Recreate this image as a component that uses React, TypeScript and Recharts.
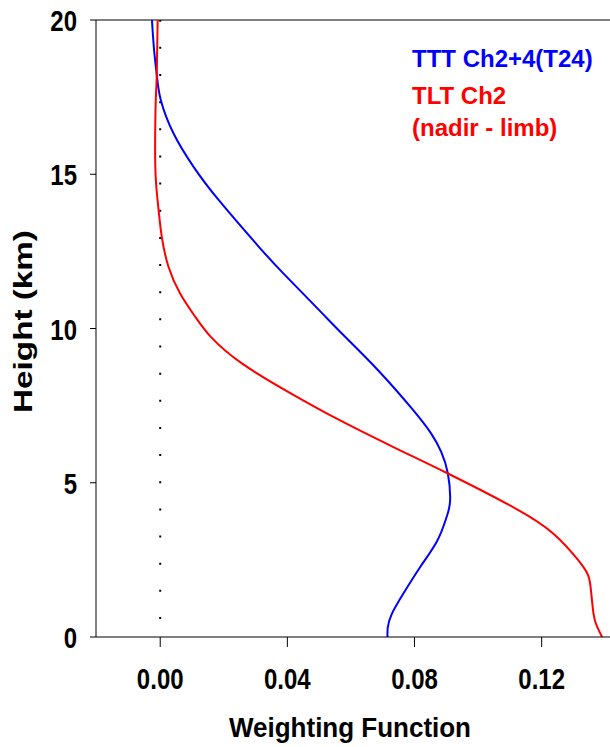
import React from 'react';
import { LineChart, Line, XAxis, YAxis, ReferenceLine } from 'recharts';

// heights (km) and weighting function values
const tttHeights = [20, 19, 18.15, 17.4, 16.32, 15.24, 14.15, 12.64, 11.78, 10.53, 9.78, 8.64, 7.4, 6.6, 6.0, 5.3, 4.43, 3.89, 3.13, 2.27, 1.41, 0.76, 0.32, 0];
const tttValues = [-0.0026, -0.0019, -0.001, 0.0002, 0.0042, 0.0105, 0.0185, 0.0311, 0.0388, 0.0506, 0.0577, 0.0686, 0.0792, 0.0852, 0.0884, 0.0905, 0.0912, 0.0901, 0.0872, 0.0818, 0.0765, 0.0729, 0.0716, 0.0715];

const tltHeights = [20, 18.15, 17.4, 15.8, 14.7, 13.83, 12.97, 12.0, 11.13, 10.37, 9.72, 8.86, 7.89, 7.02, 6.1, 5.3, 4.21, 3.35, 2.49, 2.05, 1.62, 0.76, 0.32, 0];
const tltValues = [-0.0008, -0.0011, -0.0014, -0.0016, -0.0013, -0.0005, 0.0005, 0.0026, 0.0063, 0.0111, 0.016, 0.0258, 0.0412, 0.0566, 0.0745, 0.0905, 0.111, 0.1237, 0.1315, 0.1344, 0.1354, 0.1363, 0.1375, 0.139];

const xTicks = [0, 0.04, 0.08, 0.12];
const yTicks = [0, 5, 10, 15, 20];

const FONT = '"Liberation Sans", Arial, sans-serif';

const ttt = tttHeights.map((h, i) => ({ h, w: tttValues[i] }));
const tlt = tltHeights.map((h, i) => ({ h, w: tltValues[i] }));

const XTick = (props: any) => {
  const { x, payload } = props;
  return (
    <g transform={`translate(${x},689.3) scale(1,1.2)`}>
      <text x={0} y={0} textAnchor="middle" fontFamily={FONT} fontWeight="bold" fontSize={24} fill="#000">
        {Number(payload.value).toFixed(2)}
      </text>
    </g>
  );
};

const YTick = (props: any) => {
  const { y, payload } = props;
  return (
    <g transform={`translate(77,${y + 11}) scale(1,1.2)`}>
      <text x={0} y={0} textAnchor="end" fontFamily={FONT} fontWeight="bold" fontSize={24} fill="#000">
        {payload.value}
      </text>
    </g>
  );
};

export default function App() {
  return (
    <div style={{ position: 'absolute', left: 0, top: 0, width: 610, height: 747, background: '#fff' }}>
      <LineChart width={610} height={747} layout="vertical" margin={{ top: 20, right: 0, bottom: 0, left: 0 }}>
        <XAxis
          type="number"
          dataKey="w"
          domain={[-0.0202, 0.1415]}
          ticks={xTicks}
          allowDataOverflow
          height={110}
          tickSize={10}
          tick={<XTick />}
          axisLine={{ stroke: '#000' }}
          tickLine={{ stroke: '#000' }}
        />
        <YAxis
          type="number"
          dataKey="h"
          domain={[0, 20]}
          ticks={yTicks}
          reversed
          width={96}
          tickSize={6}
          tick={<YTick />}
          axisLine={{ stroke: '#000' }}
          tickLine={{ stroke: '#000' }}
        />
        <ReferenceLine y={20} stroke="#000" strokeWidth={1} />
        <ReferenceLine x={0} stroke="#000" strokeWidth={2} strokeDasharray="2 25.15" strokeDashoffset={9.15} />
        <Line data={ttt} dataKey="w" type="natural" stroke="#0000ff" strokeWidth={2} dot={false} isAnimationActive={false} />
        <Line data={tlt} dataKey="w" type="natural" stroke="#ff0000" strokeWidth={2} dot={false} isAnimationActive={false} />
      </LineChart>
      <svg width={610} height={747} style={{ position: 'absolute', left: 0, top: 0, pointerEvents: 'none' }}>
        <g fontFamily={FONT} fontWeight="bold">
          <text transform="translate(31.7,321.5) rotate(-90) scale(1.33,1)" textAnchor="middle" fontSize={25} fill="#000">
            Height (km)
          </text>
          <text transform="translate(350,737) scale(1,1.07)" textAnchor="middle" fontSize={26} fill="#000">
            Weighting Function
          </text>
          <text x={412} y={67} fontSize={24} fill="#0000ff">TTT Ch2+4(T24)</text>
          <text x={412} y={104} fontSize={24} fill="#ff0000">TLT Ch2</text>
          <text x={412} y={136} fontSize={24} fill="#ff0000">(nadir - limb)</text>
        </g>
      </svg>
    </div>
  );
}
